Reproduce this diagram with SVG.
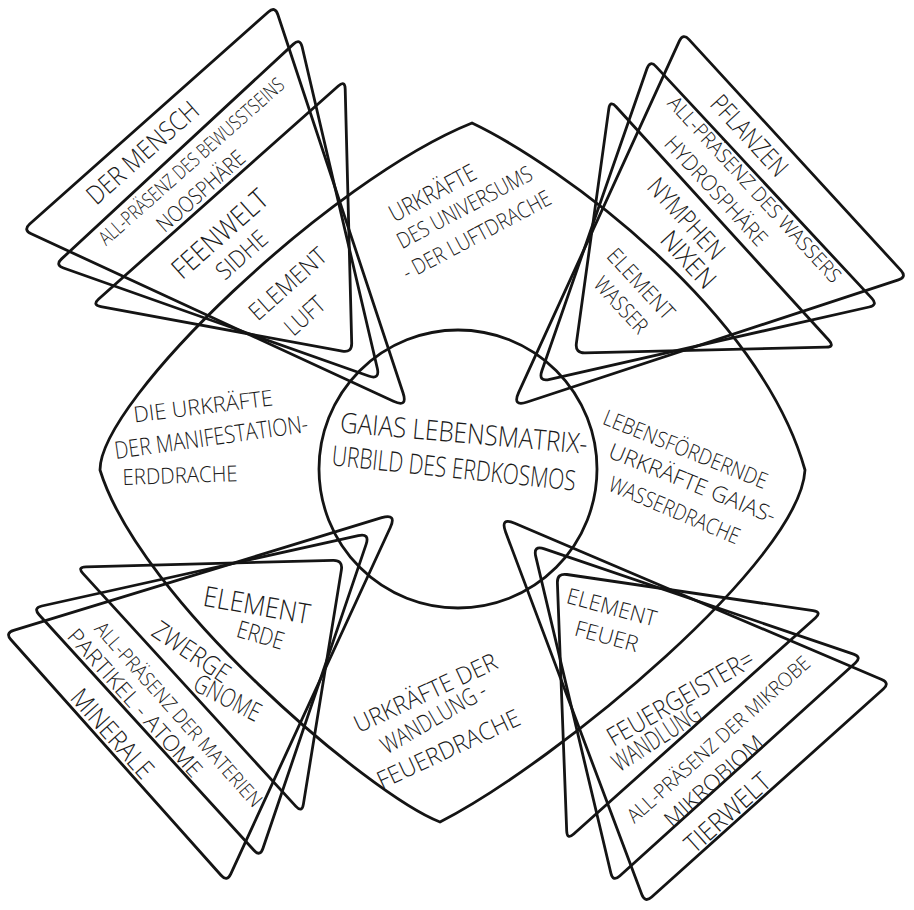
<svg xmlns="http://www.w3.org/2000/svg" width="914" height="910" viewBox="0 0 914 910">
<style>
.ln{fill:none;stroke:#141414;stroke-width:2.8;stroke-linejoin:round;stroke-linecap:round}
.t{font-family:"Open Sans","Liberation Sans","DejaVu Sans",sans-serif;font-weight:300;fill:#1a1a1a;text-anchor:middle;dominant-baseline:central}
.s28{font-size:28px}.s26{font-size:26px}.s24{font-size:24px}.s22{font-size:22px}.s20{font-size:20px}
</style>
<rect width="914" height="910" fill="#ffffff"/>
<g id="connectors">
<path id="lobes" class="ln" d="M 472 123 C 560 165, 760 310, 805 470 C 800 560, 560 760, 440 822 C 370 795, 140 600, 100 470 C 100 400, 330 180, 472 123 Z"/>
<circle id="core" class="ln" cx="458" cy="469" r="139"/>
</g>
<g id="tl">
<path class="ln" d="M 268.3 12.0 L 29.7 224.0 Q 23 230 31.2 233.8 L 393.5 401.3 Q 408 408 403.0 392.8 L 277.8 14.5 Q 275 6 268.3 12.0 Z"/>
<path class="ln" d="M 293.4 44.1 L 61.6 258.9 Q 55 265 63.5 268.0 L 368.7 376.0 Q 380 380 377.3 368.3 L 302.1 46.8 Q 300 38 293.4 44.1 Z"/>
<path class="ln" d="M 338.3 86.0 L 98.7 299.0 Q 92 305 100.8 306.6 L 342.2 351.2 Q 352 353 351.7 343.0 L 345.2 89.0 Q 345 80 338.3 86.0 Z"/>
<g transform="translate(142,152) rotate(-41.6)"><text class="t s26" textLength="140" lengthAdjust="spacingAndGlyphs">DER MENSCH</text></g>
<g transform="translate(191,161) rotate(-41.6)"><text class="t s20" textLength="240" lengthAdjust="spacingAndGlyphs">ALL-PRÄSENZ DES BEWUSSTSEINS</text></g>
<g transform="translate(200,190) rotate(-41.6)"><text class="t s22" textLength="110" lengthAdjust="spacingAndGlyphs">NOOSPHÄRE</text></g>
<g transform="translate(219,233) rotate(-41.6)"><text class="t s28" textLength="118" lengthAdjust="spacingAndGlyphs">FEENWELT</text></g>
<g transform="translate(241,254) rotate(-41.6)"><text class="t s24" textLength="60" lengthAdjust="spacingAndGlyphs">SIDHE</text></g>
<g transform="translate(287,283) rotate(-41.6)"><text class="t s24" textLength="95" lengthAdjust="spacingAndGlyphs">ELEMENT</text></g>
<g transform="translate(304,315) rotate(-41.6)"><text class="t s24" textLength="45" lengthAdjust="spacingAndGlyphs">LUFT</text></g>
</g>
<g id="tr">
<path class="ln" d="M 689.1 39.6 L 900.9 270.4 Q 907 277 898.4 279.8 L 527.2 402.0 Q 512 407 518.7 392.4 L 679.3 41.2 Q 683 33 689.1 39.6 Z"/>
<path class="ln" d="M 656.1 66.6 L 871.9 298.4 Q 878 305 869.2 307.0 L 549.7 379.3 Q 538 382 541.9 370.7 L 647.0 68.5 Q 650 60 656.1 66.6 Z"/>
<path class="ln" d="M 616.1 106.7 L 828.9 340.3 Q 835 347 826.0 347.2 L 585.0 352.8 Q 575 353 576.4 343.1 L 608.8 108.9 Q 610 100 616.1 106.7 Z"/>
<g transform="translate(750,135) rotate(47.4)"><text class="t s26" textLength="100" lengthAdjust="spacingAndGlyphs">PFLANZEN</text></g>
<g transform="translate(755,189) rotate(47.4)"><text class="t s20" textLength="245" lengthAdjust="spacingAndGlyphs">ALL-PRÄSENZ DES WASSERS</text></g>
<g transform="translate(717,190) rotate(47.4)"><text class="t s22" textLength="140" lengthAdjust="spacingAndGlyphs">HYDROSPHÄRE</text></g>
<g transform="translate(687,218) rotate(47.4)"><text class="t s26" textLength="100" lengthAdjust="spacingAndGlyphs">NYMPHEN</text></g>
<g transform="translate(689,259) rotate(47.4)"><text class="t s26" textLength="68" lengthAdjust="spacingAndGlyphs">NIXEN</text></g>
<g transform="translate(642,283) rotate(47.4)"><text class="t s22" textLength="88" lengthAdjust="spacingAndGlyphs">ELEMENT</text></g>
<g transform="translate(622,304) rotate(47.4)"><text class="t s22" textLength="68" lengthAdjust="spacingAndGlyphs">WASSER</text></g>
</g>
<g id="bl">
<path class="ln" d="M 11.0 639.7 L 221.0 875.3 Q 227 882 230.8 873.8 L 390.3 527.5 Q 397 513 381.7 517.7 L 13.6 630.4 Q 5 633 11.0 639.7 Z"/>
<path class="ln" d="M 39.1 614.7 L 253.9 850.3 Q 260 857 262.9 848.5 L 366.1 544.4 Q 370 533 358.3 535.6 L 41.8 606.0 Q 33 608 39.1 614.7 Z"/>
<path class="ln" d="M 83.1 573.6 L 295.9 806.4 Q 302 813 303.4 804.1 L 341.4 569.9 Q 343 560 333.0 560.3 L 86.0 566.8 Q 77 567 83.1 573.6 Z"/>
<g transform="translate(113,733) rotate(48.3)"><text class="t s26" textLength="110" lengthAdjust="spacingAndGlyphs">MINERALE</text></g>
<g transform="translate(136,702) rotate(48.3)"><text class="t s22" textLength="190" lengthAdjust="spacingAndGlyphs">PARTIKEL - ATOME</text></g>
<g transform="translate(179,714) rotate(48.3)"><text class="t s20" textLength="240" lengthAdjust="spacingAndGlyphs">ALL-PRÄSENZ DER MATERIEN</text></g>
<g transform="translate(192,651) rotate(34)"><text class="t s26" textLength="88" lengthAdjust="spacingAndGlyphs">ZWERGE</text></g>
<g transform="translate(228,697) rotate(27)"><text class="t s26" textLength="72" lengthAdjust="spacingAndGlyphs">GNOME</text></g>
<g transform="translate(257,604) rotate(10)"><text class="t s28" textLength="108" lengthAdjust="spacingAndGlyphs">ELEMENT</text></g>
<g transform="translate(261,634) rotate(16)"><text class="t s24" textLength="48" lengthAdjust="spacingAndGlyphs">ERDE</text></g>
</g>
<g id="br">
<path class="ln" d="M 651.7 897.0 L 883.3 689.0 Q 890 683 881.7 679.5 L 514.7 523.3 Q 500 517 505.6 532.0 L 641.8 894.6 Q 645 903 651.7 897.0 Z"/>
<path class="ln" d="M 619.7 876.0 L 855.3 663.0 Q 862 657 853.5 654.1 L 544.4 548.9 Q 533 545 535.8 556.7 L 610.9 873.2 Q 613 882 619.7 876.0 Z"/>
<path class="ln" d="M 573.7 834.0 L 815.3 618.0 Q 822 612 813.1 610.7 L 566.9 574.5 Q 557 573 557.4 583.0 L 566.7 831.0 Q 567 840 573.7 834.0 Z"/>
<g transform="translate(727,812) rotate(-41.9)"><text class="t s26" textLength="105" lengthAdjust="spacingAndGlyphs">TIERWELT</text></g>
<g transform="translate(713,780) rotate(-41.9)"><text class="t s22" textLength="125" lengthAdjust="spacingAndGlyphs">MIKROBIOM</text></g>
<g transform="translate(718,739) rotate(-41.9)"><text class="t s20" textLength="238" lengthAdjust="spacingAndGlyphs">ALL-PRÄSENZ DER MIKROBE</text></g>
<g transform="translate(680,697) rotate(-30)"><text class="t s26" textLength="165" lengthAdjust="spacingAndGlyphs">FEUERGEISTER=</text></g>
<g transform="translate(656,737) rotate(-33)"><text class="t s26" textLength="100" lengthAdjust="spacingAndGlyphs">WANDLUNG</text></g>
<g transform="translate(612,606) rotate(15)"><text class="t s22" textLength="92" lengthAdjust="spacingAndGlyphs">ELEMENT</text></g>
<g transform="translate(607,635) rotate(15)"><text class="t s22" textLength="65" lengthAdjust="spacingAndGlyphs">FEUER</text></g>
</g>
<g id="center">
<g transform="translate(464,432) rotate(5)"><text class="t s28" textLength="248" lengthAdjust="spacingAndGlyphs">GAIAS LEBENSMATRIX-</text></g>
<g transform="translate(454,467) rotate(6)"><text class="t s28" textLength="245" lengthAdjust="spacingAndGlyphs">URBILD DES ERDKOSMOS</text></g>
</g>
<g id="lobe-top">
<g transform="translate(432,192) rotate(-28)"><text class="t s24" textLength="95" lengthAdjust="spacingAndGlyphs">URKRÄFTE</text></g>
<g transform="translate(464,206) rotate(-28)"><text class="t s22" textLength="150" lengthAdjust="spacingAndGlyphs">DES UNIVERSUMS</text></g>
<g transform="translate(476,234) rotate(-28)"><text class="t s22" textLength="165" lengthAdjust="spacingAndGlyphs">- DER LUFTDRACHE</text></g>
</g>
<g id="lobe-left">
<g transform="translate(203,405) rotate(-7)"><text class="t s22" textLength="140" lengthAdjust="spacingAndGlyphs">DIE URKRÄFTE</text></g>
<g transform="translate(211,436) rotate(-8)"><text class="t s24" textLength="195" lengthAdjust="spacingAndGlyphs">DER MANIFESTATION-</text></g>
<g transform="translate(180,474) rotate(-2)"><text class="t s22" textLength="115" lengthAdjust="spacingAndGlyphs">ERDDRACHE</text></g>
</g>
<g id="lobe-right">
<g transform="translate(686,448) rotate(22)"><text class="t s22" textLength="175" lengthAdjust="spacingAndGlyphs">LEBENSFÖRDERNDE</text></g>
<g transform="translate(693,482) rotate(22)"><text class="t s22" textLength="178" lengthAdjust="spacingAndGlyphs">URKRÄFTE GAIAS-</text></g>
<g transform="translate(675,509) rotate(23)"><text class="t s22" textLength="140" lengthAdjust="spacingAndGlyphs">WASSERDRACHE</text></g>
</g>
<g id="lobe-bottom">
<g transform="translate(425,692) rotate(-25)"><text class="t s24" textLength="155" lengthAdjust="spacingAndGlyphs">URKRÄFTE DER</text></g>
<g transform="translate(433,717) rotate(-30)"><text class="t s24" textLength="118" lengthAdjust="spacingAndGlyphs">WANDLUNG -</text></g>
<g transform="translate(448,748) rotate(-25)"><text class="t s24" textLength="155" lengthAdjust="spacingAndGlyphs">FEUERDRACHE</text></g>
</g>
</svg>
